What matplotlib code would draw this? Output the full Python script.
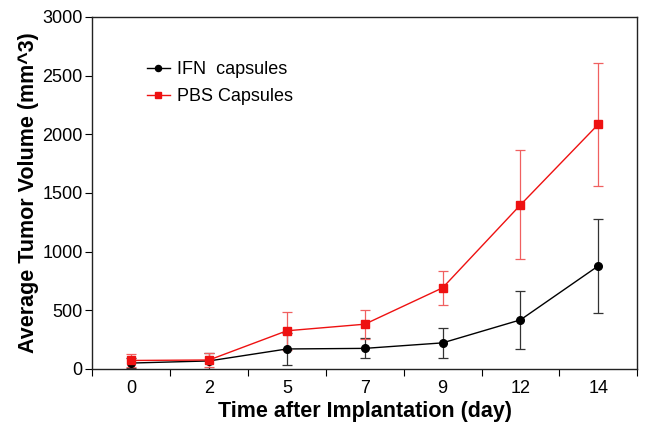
import matplotlib
matplotlib.use("Agg")
import matplotlib.pyplot as plt
import numpy as np

plt.rcParams['font.family'] = ['Liberation Sans', 'DejaVu Sans']

days = ['0', '2', '5', '7', '9', '12', '14']

ifn_mean = [50, 68, 170, 175, 222, 418, 878]
ifn_err = [40, 65, 140, 85, 125, 250, 400]

pbs_mean = [72, 76, 325, 381, 691, 1398, 2085]
pbs_err = [55, 60, 160, 125, 147, 465, 522]

fig = plt.figure(figsize=(6.45, 4.33), dpi=100)
ax = fig.add_axes([0.143, 0.148, 0.845, 0.813])

x = np.arange(len(days))

# error bars first, lines + markers on top (legend shows only line + marker)
ax.errorbar(x, ifn_mean, yerr=ifn_err, fmt='none', ecolor='#333333',
            elinewidth=0.9, capsize=3.5, capthick=0.9, zorder=2)
ax.errorbar(x, pbs_mean, yerr=pbs_err, fmt='none', ecolor='#f06060',
            elinewidth=0.9, capsize=3.5, capthick=0.9, zorder=2)
ax.plot(x, ifn_mean, color='black', marker='o', markersize=5.5, linewidth=1.0,
        label='IFN  capsules', zorder=3)
ax.plot(x, pbs_mean, color='#ee1111', marker='s', markersize=5.5, linewidth=1.0,
        label='PBS Capsules', zorder=4)

ax.set_xlim(-0.5, len(days) - 0.5)
ax.set_ylim(0, 3000)

# ticks between the categories, labels under the points
ax.set_xticks(np.arange(-0.5, len(days), 1.0))
ax.set_xticklabels([])
ax.set_xticks(x, minor=True)
ax.set_xticklabels(days, minor=True)
ax.tick_params(axis='x', which='minor', length=0, labelsize=13, pad=8)
ax.tick_params(axis='x', which='major', length=5, direction='out')

ax.set_yticks(np.arange(0, 3001, 500))
ax.tick_params(axis='y', labelsize=13, length=5, direction='out', pad=2)

for s in ax.spines.values():
    s.set_linewidth(1.0)
    s.set_color('#222222')

ax.set_xlabel('Time after Implantation (day)', fontsize=15.5, fontweight='bold', labelpad=3)
ax.set_ylabel('Average Tumor Volume (mm^3)', fontsize=15.5, fontweight='bold', labelpad=2)

ax.legend(loc='upper left', bbox_to_anchor=(0.07, 0.92), frameon=False,
          fontsize=13, handlelength=1.3, handletextpad=0.4, labelspacing=0.55,
          markerscale=0.8, numpoints=1)

fig.savefig('out.png', dpi=100)
